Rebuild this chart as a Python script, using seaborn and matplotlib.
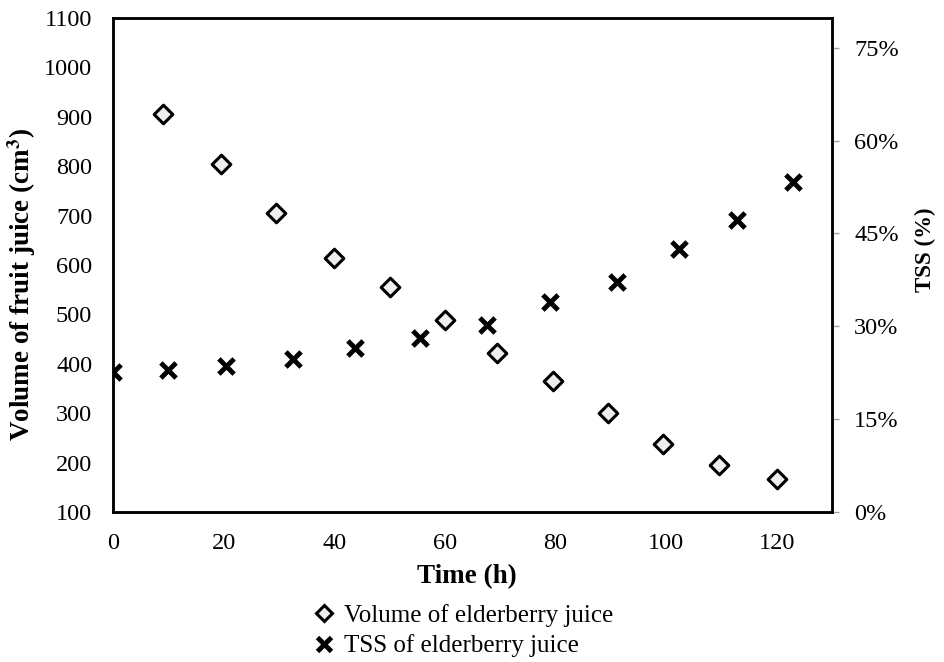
import matplotlib
matplotlib.use("Agg")
import matplotlib.pyplot as plt
import matplotlib.ticker as ticker
from matplotlib.lines import Line2D
import pandas as pd
import seaborn as sns

sns.set_style("white")
plt.rcParams["font.family"] = ["Liberation Serif", "DejaVu Serif"]
plt.rcParams["mathtext.fontset"] = "stix"
plt.rcParams.update({"text.color": "black", "axes.labelcolor": "black",
                     "xtick.color": "black", "ytick.color": "black"})

# values
volume_time = [9, 19.5, 29.5, 40, 50, 60, 69.5, 79.5, 89.5, 99.5, 109.5, 120]
volume_cm3 = [906, 805, 706, 614, 555, 489, 422, 365, 300, 238, 195, 166]
tss_time = [0, 10, 20.4, 32.6, 43.7, 55.5, 67.6, 79.1, 91.1, 102.4, 112.9, 123]
tss_frac = [0.226, 0.229, 0.236, 0.247, 0.265, 0.281, 0.302, 0.339, 0.372, 0.425, 0.472, 0.533]

vol = pd.DataFrame({"time": volume_time, "volume": volume_cm3})
tss = pd.DataFrame({"time": tss_time, "tss": tss_frac})

fig = plt.figure(figsize=(9.44, 6.62), dpi=100)
ax = fig.add_axes([113 / 944, 1 - 512 / 662, (832 - 113) / 944, (512 - 18) / 662])
ax2 = ax.twinx()

sns.scatterplot(data=vol, x="time", y="volume", ax=ax, marker="D", s=90,
                color="#eeeeee", edgecolor="black", linewidth=2.2, zorder=3)
sns.scatterplot(data=tss, x="time", y="tss", ax=ax2, marker="x", s=120,
                color="black", linewidth=3.5, zorder=3)

ax.set_xlim(0, 130)
ax.set_ylim(100, 1100)
ax.xaxis.set_major_locator(ticker.MultipleLocator(20))
ax.yaxis.set_major_locator(ticker.MultipleLocator(100))
ax2.set_ylim(0, 0.798)
ax2.yaxis.set_major_locator(ticker.MultipleLocator(0.15))
ax2.yaxis.set_major_formatter(ticker.FuncFormatter(lambda v, p: f"{v * 100:.0f}%"))

ax.set_xlabel("Time (h)", fontsize=19.5, fontweight="bold")
ax.set_ylabel("Volume of fruit juice (cm$^\\mathbf{3}$)", fontsize=19.5, fontweight="bold")
ax2.set_ylabel("TSS (%)", fontsize=16.5, fontweight="bold")
ax.xaxis.set_label_coords(0.492, -0.105)
ax.yaxis.set_label_coords(-0.104, 0.46)
ax2.yaxis.set_label_coords(1.115, 0.53)

ax.tick_params(axis="both", length=0, labelsize=17.5, colors="black")
ax.tick_params(axis="y", pad=15)
ax.tick_params(axis="x", pad=15)
ax2.tick_params(axis="y", length=5, width=1, color="#a0a0a0", labelcolor="black",
                labelsize=17.5, pad=11)

for a in (ax, ax2):
    for s in a.spines.values():
        s.set_color("black")
        s.set_linewidth(1.8)
ax.grid(False)
ax2.grid(False)

handles = [
    Line2D([], [], linestyle="none", marker="D", markersize=8, markerfacecolor="#eeeeee",
           markeredgecolor="black", markeredgewidth=2.2),
    Line2D([], [], linestyle="none", marker="x", markersize=10, color="black", markeredgewidth=3.5),
]
fig.legend(handles, ["Volume of elderberry juice", "TSS of elderberry juice"],
           loc="upper left", bbox_to_anchor=(300 / 944, 1 - 594 / 662), frameon=False,
           fontsize=18, handletextpad=0.25, labelspacing=0.3, handlelength=1.1, borderaxespad=0)

fig.savefig("out.png", dpi=100)
